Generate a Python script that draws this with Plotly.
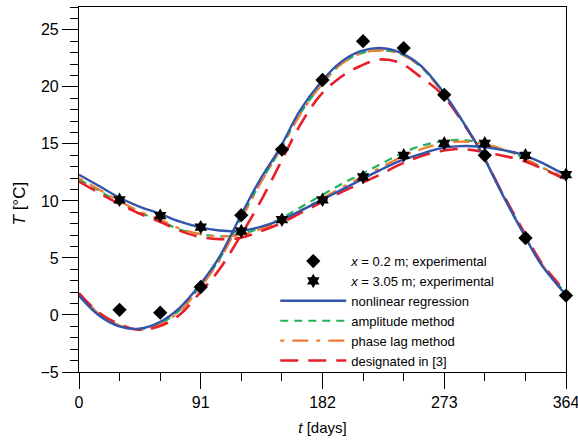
import plotly.graph_objects as go

# Experimental data (days, temperature)
exp_days = [30.3, 60.7, 91, 121.3, 151.7, 182, 212.3, 242.7, 273, 303.3, 333.7, 364]
exp_x02 = [0.45, 0.2, 2.45, 8.75, 14.5, 20.6, 24.0, 23.4, 19.3, 14.0, 6.75, 1.7]
exp_x305 = [10.1, 8.7, 7.7, 7.35, 8.35, 10.1, 12.1, 14.0, 15.05, 15.05, 14.0, 12.3]

# Model curves
curve_days = [0, 15, 30, 45, 60, 75, 90, 105, 120, 135, 150, 165, 180, 195, 210,
              225, 240, 255, 270, 285, 300, 315, 330, 345, 360, 364]

nlr_x02 = [1.7, -0.05, -1.0, -1.2, -0.65, 0.6, 2.6, 5.1, 8.5, 11.8, 14.6, 17.9, 20.3,
           22.1, 23.1, 23.4, 23.0, 21.9, 19.9, 17.3, 14.4, 10.9, 7.6, 4.5, 2.3, 1.75]
amp_x02 = [1.9, 0.1, -0.9, -1.25, -0.8, 0.4, 2.4, 4.9, 8.2, 11.5, 14.4, 17.6, 20.0,
           21.9, 22.9, 23.2, 22.9, 21.8, 19.8, 17.3, 14.4, 11.0, 7.7, 4.6, 2.4, 1.9]
phase_x02 = [1.9, 0.1, -0.9, -1.3, -0.85, 0.3, 2.3, 4.8, 8.1, 11.4, 14.4, 17.5, 20.0,
             21.9, 22.9, 23.2, 22.9, 21.8, 19.8, 17.3, 14.4, 11.0, 7.7, 4.6, 2.4, 1.9]
des_x02 = [1.9, 0.2, -0.8, -1.3, -1.0, 0.0, 1.9, 4.0, 6.8, 9.8, 13.2, 16.6, 19.2,
           20.8, 21.8, 22.4, 22.1, 20.9, 19.5, 17.2, 14.4, 11.0, 7.8, 4.7, 2.5, 1.9]

nlr_x305 = [12.3, 11.3, 10.3, 9.5, 8.9, 8.2, 7.7, 7.4, 7.35, 7.7, 8.3, 9.1, 10.0,
            10.9, 11.8, 12.7, 13.5, 14.1, 14.6, 14.8, 14.75, 14.5, 14.1, 13.4, 12.5, 12.3]
amp_x305 = [11.9, 10.9, 9.9, 9.0, 8.3, 7.5, 7.1, 6.9, 7.05, 7.6, 8.4, 9.4, 10.4,
            11.4, 12.3, 13.2, 14.1, 14.8, 15.2, 15.35, 15.1, 14.6, 13.9, 13.0, 12.1, 11.9]
phase_x305 = [12.0, 11.0, 10.0, 9.1, 8.4, 7.6, 7.1, 6.9, 7.0, 7.5, 8.2, 9.1, 10.1,
              11.1, 12.0, 12.9, 13.8, 14.5, 15.0, 15.2, 15.05, 14.6, 13.9, 13.0, 12.2, 12.0]
des_x305 = [11.7, 10.7, 9.75, 8.9, 8.2, 7.4, 6.85, 6.65, 6.75, 7.3, 8.0, 8.9, 9.8,
            10.7, 11.5, 12.3, 13.2, 13.9, 14.35, 14.55, 14.35, 14.0, 13.6, 12.9, 12.1, 11.9]

x_tickvals = [0, 91, 182, 273, 364]

FONT = "Liberation Sans, Arial, sans-serif"

fig = go.Figure()

styles = [
    ("amplitude method", "amp", "rgb(34,177,90)", "8px,6px", 2.2, amp_x02, amp_x305, 4),
    ("phase lag method", "phase", "rgb(240,125,50)", "4px,8px,16px,8px", 2.2, phase_x02, phase_x305, 5),
    ("designated in [3]", "des", "rgb(232,30,40)", "18px,10px", 2.6, des_x02, des_x305, 6),
    ("nonlinear regression", "nlr", "rgb(50,85,170)", "solid", 2.4, nlr_x02, nlr_x305, 3),
]

for name, grp, color, dash, w, a, b, rank in styles:
    for i, ys in enumerate([a, b]):
        fig.add_trace(go.Scatter(
            x=curve_days, y=ys, mode="lines", name=name, legendgroup=grp,
            showlegend=(i == 0), legendrank=rank,
            line=dict(color=color, dash=dash, width=w, shape="spline", smoothing=1.0),
        ))

fig.add_trace(go.Scatter(
    x=exp_days, y=exp_x02, mode="markers", name="<i>x</i> = 0.2 m; experimental",
    legendrank=1, cliponaxis=False,
    marker=dict(symbol="diamond", size=11, color="black"),
))
fig.add_trace(go.Scatter(
    x=exp_days, y=exp_x305, mode="markers", name="<i>x</i> = 3.05 m; experimental",
    legendrank=2, cliponaxis=False,
    marker=dict(symbol="hexagram", size=11, color="black"),
))

fig.update_layout(
    width=578, height=441,
    margin=dict(l=79, r=12, t=7, b=69),
    paper_bgcolor="white", plot_bgcolor="white",
    font=dict(family=FONT, size=16, color="black"),
    legend=dict(
        x=0.403, y=0.345, xanchor="left", yanchor="top",
        bgcolor="rgba(0,0,0,0)", font=dict(size=13),
        traceorder="normal", itemwidth=66, tracegroupgap=0,
    ),
    annotations=[dict(
        text="<i>T</i> [°C]", textangle=-90, showarrow=False,
        xref="paper", yref="paper", x=-0.123, y=0.462,
        xanchor="center", yanchor="middle", font=dict(size=17),
    )],
)

fig.update_xaxes(
    range=[0, 364], tickvals=x_tickvals, ticktext=[str(v) for v in x_tickvals],
    showgrid=False, zeroline=False, automargin=False, ticklabeloverflow="allow",
    showline=True, linecolor="black", linewidth=1.2, mirror=True,
    ticks="outside", ticklen=16, tickwidth=1.2, tickcolor="black",
    minor=dict(ticks="outside", ticklen=8, tickwidth=1.2, tickcolor="black",
               tick0=0, dtick=91 / 3, showgrid=False),
    title=dict(text="<i>t</i> [days]", font=dict(size=15), standoff=12),
    tickfont=dict(size=16),
)
fig.update_yaxes(
    range=[-5, 27], tickvals=[-5, 0, 5, 10, 15, 20, 25],
    showgrid=False, zeroline=False, automargin=False, ticklabeloverflow="allow",
    showline=True, linecolor="black", linewidth=1.2, mirror=True,
    ticks="outside", ticklen=16, tickwidth=1.2, tickcolor="black",
    minor=dict(ticks="outside", ticklen=8, tickwidth=1.2, tickcolor="black",
               tick0=0, dtick=1, showgrid=False),
    tickfont=dict(size=16),
)

fig.write_html("out.html", config={"displayModeBar": False},
               post_script="document.body.style.margin='0px';")
